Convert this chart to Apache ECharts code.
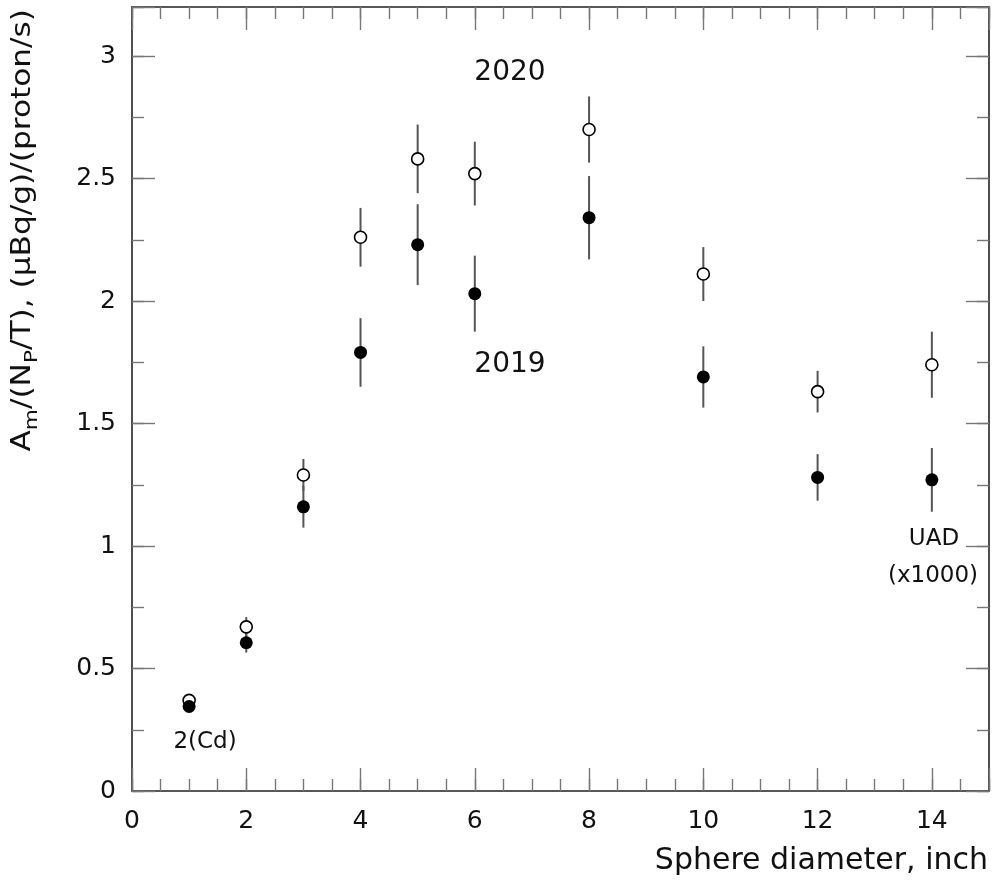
<!DOCTYPE html>
<html>
<head>
<meta charset="utf-8">
<script src="https://cdn.jsdelivr.net/npm/echarts@6/dist/echarts.min.js"></script>
<style>
html,body{margin:0;padding:0;background:#fff;}
#chart{width:995px;height:889px;}
</style>
</head>
<body>
<div id="chart"></div>
<script>
// Sphere diameters (inch)
const diameters = [1, 2, 3, 4, 5, 6, 8, 10, 12, 14];
// 2020 (open circles)
const values2020 = [0.37, 0.67, 1.29, 2.26, 2.58, 2.52, 2.70, 2.11, 1.63, 1.74];
const errors2020 = [0.02, 0.04, 0.065, 0.12, 0.14, 0.13, 0.135, 0.11, 0.085, 0.135];
// 2019 (filled circles)
const values2019 = [0.345, 0.605, 1.16, 1.79, 2.23, 2.03, 2.34, 1.69, 1.28, 1.27];
const errors2019 = [0.02, 0.04, 0.085, 0.14, 0.165, 0.155, 0.17, 0.125, 0.095, 0.13];

const xTicks = [0, 2, 4, 6, 8, 10, 12, 14];
const yTicks = [0, 0.5, 1, 1.5, 2, 2.5, 3];

const FONT = '"DejaVu Sans", Verdana, sans-serif';
const chart = echarts.init(document.getElementById('chart'), null, {renderer: 'canvas'});

function pts(vals) { return diameters.map((d, i) => [d, vals[i]]); }
function errData(vals, errs) { return diameters.map((d, i) => [d, vals[i] - errs[i], vals[i] + errs[i]]); }

function errorSeries(vals, errs) {
  return {
    type: 'custom',
    xAxisIndex: 0, yAxisIndex: 0,
    data: errData(vals, errs),
    z: 2,
    silent: true,
    renderItem: function (params, api) {
      const lo = api.coord([api.value(0), api.value(1)]);
      const hi = api.coord([api.value(0), api.value(2)]);
      return {
        type: 'line',
        shape: {x1: lo[0], y1: lo[1], x2: hi[0], y2: hi[1]},
        style: {stroke: '#555', lineWidth: 2}
      };
    }
  };
}

function xAxisDef(pos, interval, tickLen, labels, lineShow) {
  return {
    type: 'value',
    position: pos, min: 0, max: 15, interval: interval,
    splitLine: {show: false},
    axisLine: {show: lineShow, onZero: false, lineStyle: {color: '#222', width: 1.6}},
    axisTick: {show: true, inside: true, length: tickLen, lineStyle: {color: '#777', width: 1.4}},
    axisLabel: labels ? {
      show: true, margin: 18, fontFamily: FONT, fontSize: 25, color: '#111',
      formatter: v => (xTicks.indexOf(v) >= 0 ? String(v) : '')
    } : {show: false}
  };
}
function yAxisDef(pos, interval, tickLen, labels, lineShow) {
  return {
    type: 'value',
    position: pos, min: 0, max: 3.2, interval: interval,
    splitLine: {show: false},
    axisLine: {show: lineShow, onZero: false, lineStyle: {color: '#222', width: 1.6}},
    axisTick: {show: true, inside: true, length: tickLen, lineStyle: {color: '#777', width: 1.4}},
    axisLabel: labels ? {
      show: true, margin: 16, fontFamily: FONT, fontSize: 25, color: '#111',
      formatter: v => (yTicks.indexOf(Math.round(v * 100) / 100) >= 0 ? String(v) : '')
    } : {show: false}
  };
}

const option = {
  backgroundColor: '#fff',
  animation: false,
  grid: {left: 132, right: 6, top: 7, bottom: 98, containLabel: false},
  xAxis: [
    xAxisDef('bottom', 2, 23, true, true),
    xAxisDef('bottom', 0.5, 12, false, false),
    xAxisDef('top', 2, 23, false, true),
    xAxisDef('top', 0.5, 12, false, false)
  ],
  yAxis: [
    yAxisDef('left', 0.5, 23, true, true),
    yAxisDef('left', 0.25, 12, false, false),
    yAxisDef('right', 0.5, 23, false, true),
    yAxisDef('right', 0.25, 12, false, false)
  ],
  series: [
    errorSeries(values2020, errors2020),
    errorSeries(values2019, errors2019),
    {
      type: 'scatter', name: '2020', xAxisIndex: 0, yAxisIndex: 0,
      data: pts(values2020), symbol: 'circle', symbolSize: 12, z: 3,
      itemStyle: {color: '#fff', borderColor: '#000', borderWidth: 1.6, opacity: 1}
    },
    {
      type: 'scatter', name: '2019', xAxisIndex: 0, yAxisIndex: 0,
      data: pts(values2019), symbol: 'circle', symbolSize: 13, z: 3,
      itemStyle: {color: '#000', opacity: 1}
    }
  ],
  graphic: [
    {type: 'text', x: 988, y: 861, style: {text: 'Sphere diameter, inch', font: '30px ' + FONT, fill: '#111', textAlign: 'right', textVerticalAlign: 'middle'}},
    {type: 'text', x: 23, y: 9, rotation: Math.PI / 2, scaleX: 1.2,
      style: {
        text: '{m|A}{s|m}{m|/(N}{s|P}{m|/T), (μBq/g)/(proton/s)}',
        fill: '#111', textAlign: 'right', textVerticalAlign: 'middle',
        rich: {
          m: {fontSize: 26, fontFamily: FONT, fill: '#111'},
          s: {fontSize: 18, fontFamily: FONT, fill: '#111', padding: [18, 0, 0, 0]}
        }
      }},
    {type: 'text', x: 510, y: 73, style: {text: '2020', font: '28px ' + FONT, fill: '#111', textAlign: 'center', textVerticalAlign: 'middle'}},
    {type: 'text', x: 510, y: 365, style: {text: '2019', font: '28px ' + FONT, fill: '#111', textAlign: 'center', textVerticalAlign: 'middle'}},
    {type: 'text', x: 205, y: 742, style: {text: '2(Cd)', font: '23px ' + FONT, fill: '#111', textAlign: 'center', textVerticalAlign: 'middle'}},
    {type: 'text', x: 934, y: 539, style: {text: 'UAD', font: '23px ' + FONT, fill: '#111', textAlign: 'center', textVerticalAlign: 'middle'}},
    {type: 'text', x: 933, y: 576, style: {text: '(x1000)', font: '23px ' + FONT, fill: '#111', textAlign: 'center', textVerticalAlign: 'middle'}}
  ]
};
chart.setOption(option);
</script>
</body>
</html>
